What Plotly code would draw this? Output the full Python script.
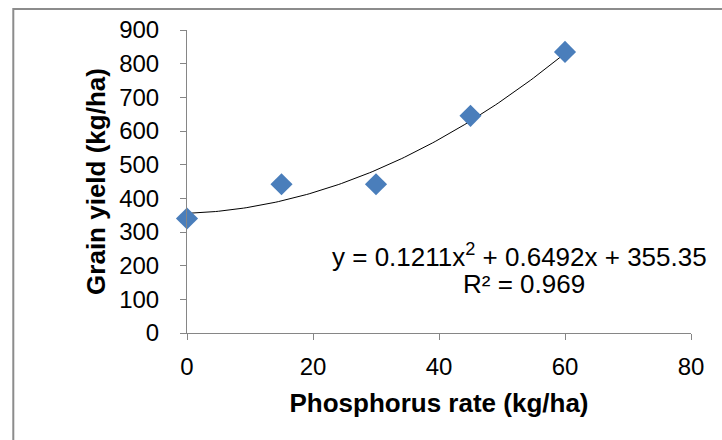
import numpy as np
import plotly.graph_objects as go

phosphorus_rate = [0, 15, 30, 45, 60]
grain_yield = [340, 442, 442, 645, 835]
trend_coeffs = [0.1211, 0.6492, 355.35]  # a, b, c of y = a x^2 + b x + c
x_ticks = [0, 20, 40, 60, 80]
y_ticks = [0, 100, 200, 300, 400, 500, 600, 700, 800, 900]

trend_x = np.linspace(0, 60, 121)
trend_y = trend_coeffs[0] * trend_x**2 + trend_coeffs[1] * trend_x + trend_coeffs[2]

W, H = 722, 440
L, R, T, B = 186.7, 31.3, 30, 106.7
pw, ph = W - L - R, H - T - B

fam = "Liberation Sans, Arial, sans-serif"
font = dict(family=fam, size=24, color="black")
afont = dict(family=fam, size=26, color="black")
tfont = dict(family=fam, size=26, color="black")
axcol = "#868686"

fig = go.Figure()
fig.add_trace(go.Scatter(x=trend_x, y=trend_y, mode="lines",
                         line=dict(color="black", width=1), hoverinfo="skip",
                         showlegend=False, cliponaxis=False))
fig.add_trace(go.Scatter(x=phosphorus_rate, y=grain_yield, mode="markers",
                         marker=dict(symbol="diamond", size=17, color="#4A7EBB"),
                         showlegend=False, cliponaxis=False))

fig.update_layout(
    width=W, height=H,
    margin=dict(l=L, r=R, t=T, b=B, autoexpand=False),
    paper_bgcolor="white", plot_bgcolor="white",
    font=font,
    xaxis=dict(range=[0, 80], tickvals=x_ticks, showgrid=False, zeroline=False,
               showline=True, linecolor=axcol, linewidth=1,
               ticks="outside", ticklen=6, tickcolor=axcol, ticklabelstandoff=6,
               tickfont=font,
               title=dict(text="<b>Phosphorus rate (kg/ha)</b>", standoff=15,
                          font=tfont)),
    yaxis=dict(range=[0, 900], tickvals=y_ticks, showgrid=False, zeroline=False,
               showline=True, linecolor=axcol, linewidth=1,
               ticks="outside", ticklen=6, tickcolor=axcol, ticklabelstandoff=16,
               tickfont=font,
               title=dict(text="<b>Grain yield (kg/ha)</b>", standoff=6,
                          font=tfont)),
    shapes=[dict(type="rect", xref="paper", yref="paper",
                 x0=(13 - L) / pw, x1=1 + (R + 20) / pw,
                 y0=-(B + 20) / ph, y1=1 + (T - 9) / ph,
                 line=dict(color="#8C8C8C", width=2))],
)
fig.add_annotation(x=(519 - L) / pw, y=1 - (256 - T) / ph, xref="paper", yref="paper",
                   showarrow=False, xanchor="center", yanchor="middle",
                   text="y = 0.1211x<sup>2</sup> + 0.6492x + 355.35", font=afont)
fig.add_annotation(x=(524 - L) / pw, y=1 - (284 - T) / ph, xref="paper", yref="paper",
                   showarrow=False, xanchor="center", yanchor="middle",
                   text="R² = 0.969", font=afont)

fig.write_html("out.html", config={"displayModeBar": False},
               post_script="document.body.style.margin='0';")
